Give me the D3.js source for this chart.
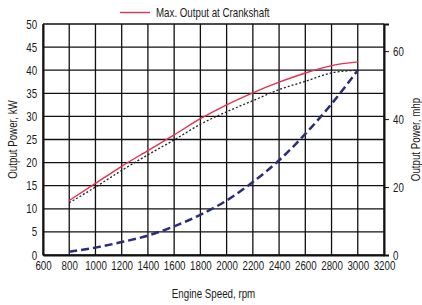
<!DOCTYPE html>
<html>
<head>
<meta charset="utf-8">
<script src="https://cdn.jsdelivr.net/npm/d3@7"></script>
<style>
  body { margin: 0; background: #fff; }
  svg text { font-family: "Liberation Sans", Arial, sans-serif; font-size: 12.5px; fill: #1a1a1a; }
</style>
</head>
<body>
<div id="chart"></div>
<script>
var svgWidth = 422;
var svgHeight = 305;

var margin = { top: 24, right: 38, bottom: 50, left: 43 };
var width = 384 - margin.left;
var height = 255 - margin.top;

// engine speed (rpm)
var rpm = [800, 1000, 1200, 1400, 1600, 1800, 2000, 2200, 2400, 2600, 2800, 3000];
// max output at crankshaft (kW)
var maxOutput = [11.8, 15.5, 19.2, 22.6, 26.0, 29.5, 32.5, 35.1, 37.4, 39.4, 41.0, 41.8];
// dotted curve (kW)
var dottedOutput = [11.3, 14.7, 18.3, 21.7, 24.9, 28.3, 31.0, 33.4, 35.8, 37.6, 39.4, 40.0];
// propeller curve (kW)
var propOutput = [0.7, 1.6, 2.8, 4.2, 6.2, 8.7, 11.8, 15.8, 20.5, 26.2, 32.7, 40.0];

var xTicks = [600, 800, 1000, 1200, 1400, 1600, 1800, 2000, 2200, 2400, 2600, 2800, 3000, 3200];
var yTicks = [0, 5, 10, 15, 20, 25, 30, 35, 40, 45, 50];
var mhpTicks = [0, 20, 40, 60];
var kwPerMhp = 0.7355;

// condensed look: squeeze text horizontally
var squeeze = "scale(0.78,1)";

var svg = d3.select("#chart")
  .append("svg")
  .attr("width", svgWidth)
  .attr("height", svgHeight);

var chartGroup = svg.append("g")
  .attr("transform", `translate(${margin.left}, ${margin.top})`);

var xScale = d3.scaleLinear().domain([600, 3200]).range([0, width]);
var yScale = d3.scaleLinear().domain([0, 50]).range([height, 0]);
var yScaleR = d3.scaleLinear().domain([0, 50 / kwPerMhp]).range([height, 0]);

// grid
chartGroup.append("g")
  .selectAll("line")
  .data(xTicks)
  .enter()
  .append("line")
  .attr("x1", d => xScale(d))
  .attr("x2", d => xScale(d))
  .attr("y1", 0)
  .attr("y2", height)
  .attr("stroke", "#111")
  .attr("stroke-width", 1.3);

chartGroup.append("g")
  .selectAll("line")
  .data(yTicks)
  .enter()
  .append("line")
  .attr("x1", 0)
  .attr("x2", width)
  .attr("y1", d => yScale(d))
  .attr("y2", d => yScale(d))
  .attr("stroke", "#111")
  .attr("stroke-width", 1.3);

// axes
var bottomAxis = d3.axisBottom(xScale).tickValues(xTicks).tickFormat(d3.format("d")).tickSize(0).tickPadding(6.5);
var leftAxis = d3.axisLeft(yScale).tickValues(yTicks).tickSize(0).tickPadding(7.5);
var rightAxis = d3.axisRight(yScaleR).tickValues(mhpTicks).tickSize(5).tickPadding(6.5);

var xAxis = chartGroup.append("g")
  .attr("transform", `translate(0, ${height})`)
  .call(bottomAxis);

var yAxis = chartGroup.append("g")
  .call(leftAxis);

var yAxisR = chartGroup.append("g")
  .attr("transform", `translate(${width}, 0)`)
  .call(rightAxis);

[xAxis, yAxis, yAxisR].forEach(function(ax) {
  ax.select(".domain").attr("stroke", "#111").attr("stroke-width", 2);
  ax.selectAll(".tick line").attr("stroke", "#111");
  ax.selectAll("text")
    .attr("font-family", null)
    .attr("font-size", null)
    .attr("fill", "#1a1a1a")
    .attr("transform", squeeze);
});

// lines
var line = function(vals) {
  return d3.line()
    .x((d, i) => xScale(rpm[i]))
    .y(d => yScale(d))
    .curve(d3.curveMonotoneX)(vals);
};

chartGroup.append("path")
  .attr("d", line(propOutput))
  .attr("fill", "none")
  .attr("stroke", "#2a2d7c")
  .attr("stroke-width", 2.5)
  .attr("stroke-dasharray", "8,4");

chartGroup.append("path")
  .attr("d", line(dottedOutput))
  .attr("fill", "none")
  .attr("stroke", "#222")
  .attr("stroke-width", 1.3)
  .attr("stroke-dasharray", "2,2");

chartGroup.append("path")
  .attr("d", line(maxOutput))
  .attr("fill", "none")
  .attr("stroke", "#e5304f")
  .attr("stroke-width", 1.4);

// legend
svg.append("line")
  .attr("x1", 120)
  .attr("x2", 150)
  .attr("y1", 12.5)
  .attr("y2", 12.5)
  .attr("stroke", "#e5304f")
  .attr("stroke-width", 1.4);

svg.append("text")
  .attr("transform", `translate(156, 17) ${squeeze}`)
  .text("Max. Output at Crankshaft");

// axis titles
svg.append("text")
  .attr("transform", `translate(${margin.left + width / 2}, 298) ${squeeze}`)
  .attr("text-anchor", "middle")
  .text("Engine Speed, rpm");

svg.append("text")
  .attr("transform", `translate(17, ${margin.top + height / 2}) rotate(-90) ${squeeze}`)
  .attr("text-anchor", "middle")
  .text("Output Power, kW");

svg.append("text")
  .attr("transform", `translate(420, ${margin.top + height / 2}) rotate(-90) ${squeeze}`)
  .attr("text-anchor", "middle")
  .text("Output Power, mhp");
</script>
</body>
</html>
